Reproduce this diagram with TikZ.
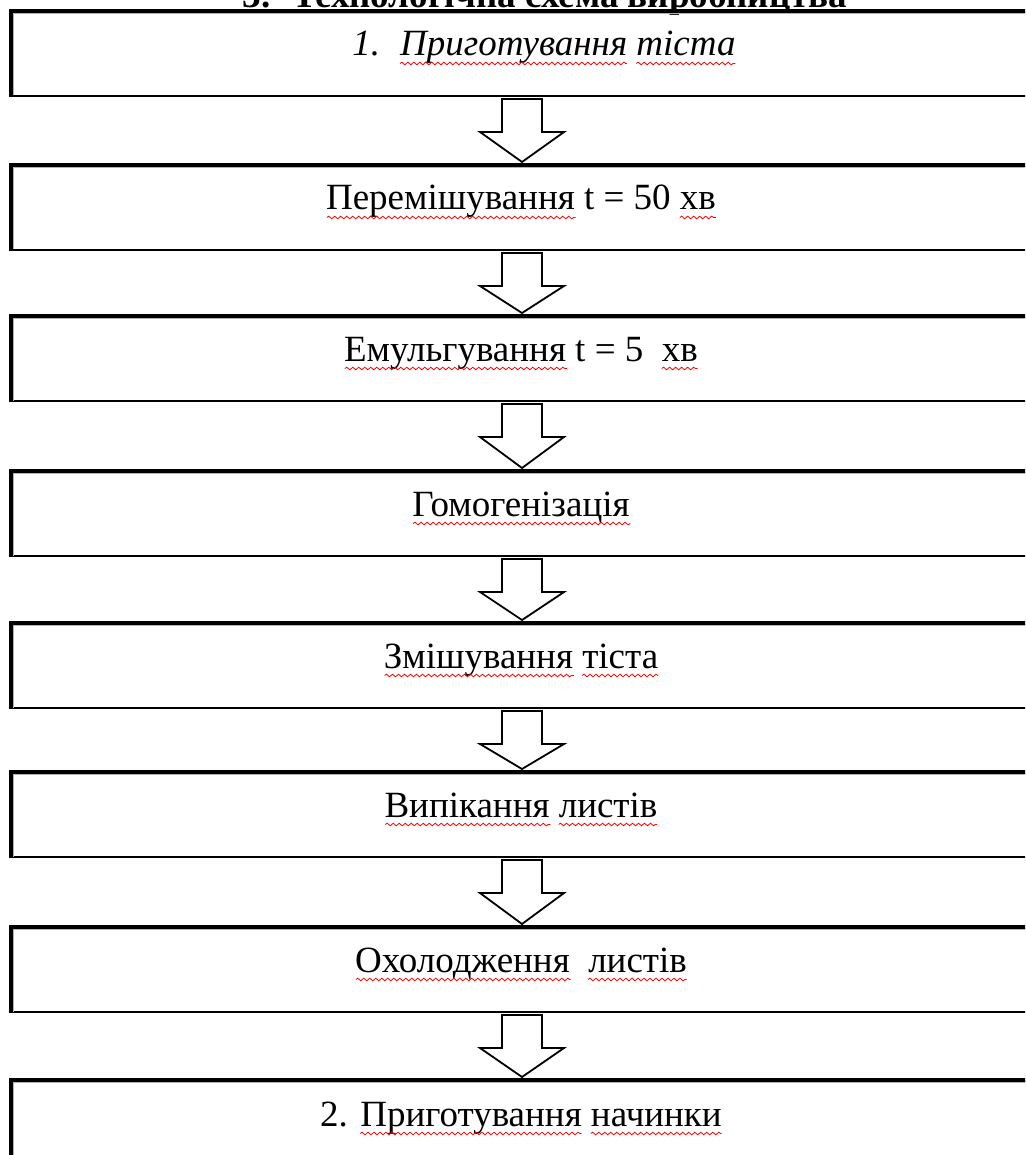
\documentclass[tikz,border=0pt]{standalone}
\usepackage{fontspec}
\setmainfont{Liberation Serif}
\usetikzlibrary{calc,decorations.pathmorphing}

\newcommand\boxfont{\fontsize{37}{44}\selectfont}
% red wavy underline under a word: mark name, text node, text before the word, the word
\newcommand\squig[4]{%
  \node[measure] (#1a) at (#2.base west) {\phantom{#3}};
  \node[measure] (#1b) at (#1a.base east) {\phantom{#4}};
  \draw[squiggle] ([yshift=-7.5pt]#1b.base west) -- ([yshift=-7.5pt]#1b.base east);}
% hollow block arrow between two stages
\newcommand\flowarrow[2]{%
  \draw[blockarrow] let \p1=(#1.south), \p2=(#2.north) in
    (\x1-20pt,\y1-2pt) -- (\x1-20pt,\y1-35pt) -- (\x1-42pt,\y1-35pt) --
    (\x1,\y2+3pt) -- (\x1+42pt,\y1-35pt) -- (\x1+20pt,\y1-35pt) --
    (\x1+20pt,\y1-2pt) -- cycle;}

\begin{document}
\begin{tikzpicture}[x=1pt,y=-1pt,
  stage/.style={rectangle, draw, line width=2pt, minimum width=1021pt,
    minimum height=84pt, inner sep=0pt, anchor=north west},
  stagetext/.style={anchor=base, inner sep=0pt, font=\boxfont},
  measure/.style={anchor=base west, inner sep=0pt, outer sep=0pt, font=\boxfont},
  titletext/.style={anchor=base, inner sep=0pt, font=\boxfont\bfseries},
  blockarrow/.style={draw, line width=1.8pt, fill=white, line join=miter},
  squiggle/.style={red, line width=0.8pt,
    decorate, decoration={snake, amplitude=1.3pt, segment length=6pt}},
  heavy/.style={line width=3.5pt},
  shade line/.style={gray!60, line width=1pt}]
\useasboundingbox (0,0) rectangle (1025,1155);
\clip (0,0) rectangle (1025,1155);

% heading, cut by the top edge
\node[titletext] (title) at (545,8) {3.~ Технологічна схема виробництва};

% stages
\node[stage] (b1) at (10.5,11) {};
\node[stage] (b2) at (10.5,165) {};
\node[stage] (b3) at (10.5,316) {};
\node[stage] (b4) at (10.5,471) {};
\node[stage] (b5) at (10.5,623) {};
\node[stage] (b6) at (10.5,772) {};
\node[stage] (b7) at (10.5,927) {};
\node[stage] (b8) at (10.5,1080) {};

% heavier top and left edges with a light inner line
\foreach \n in {b1,b2,b3,b4,b5,b6,b7,b8} {
  \draw[heavy] (\n.south west) -- (\n.north west) -- (\n.north east);
  \draw[shade line] ([xshift=2.5pt,yshift=1.5pt]\n.south west) --
    ([xshift=2.5pt,yshift=-2.5pt]\n.north west) -- ([yshift=-2.5pt]\n.north east);
}

% stage texts
\node[stagetext] (t1) at (544,56) {\itshape 1.\hspace{20pt}Приготування тіста};
\node[stagetext] (t2) at (521,210) {Перемішування t = 50 хв};
\node[stagetext] (t3) at (521,361) {Емульгування t = 5~ хв};
\node[stagetext] (t4) at (521,516) {Гомогенізація};
\node[stagetext] (t5) at (521,668) {Змішування тіста};
\node[stagetext] (t6) at (521,817) {Випікання листів};
\node[stagetext] (t7) at (521,972) {Охолодження~ листів};
\node[stagetext] (t8) at (521,1126) {2. Приготування начинки};

% spelling marks under the words
\squig{s1}{t1}{\itshape 1.\hspace{20pt}}{\itshape Приготування}
\squig{s2}{t1}{\itshape 1.\hspace{20pt}Приготування }{\itshape тіста}
\squig{s3}{t2}{}{Перемішування}
\squig{s4}{t2}{Перемішування t = 50 }{хв}
\squig{s5}{t3}{}{Емульгування}
\squig{s6}{t3}{Емульгування t = 5~ }{хв}
\squig{s7}{t4}{}{Гомогенізація}
\squig{s8}{t5}{}{Змішування}
\squig{s9}{t5}{Змішування }{тіста}
\squig{s10}{t6}{}{Випікання}
\squig{s11}{t6}{Випікання }{листів}
\squig{s12}{t7}{}{Охолодження}
\squig{s13}{t7}{Охолодження~ }{листів}
\squig{s14}{t8}{2. }{Приготування}
\squig{s15}{t8}{2. Приготування }{начинки}

% flow arrows
\flowarrow{b1}{b2}
\flowarrow{b2}{b3}
\flowarrow{b3}{b4}
\flowarrow{b4}{b5}
\flowarrow{b5}{b6}
\flowarrow{b6}{b7}
\flowarrow{b7}{b8}
\end{tikzpicture}
\end{document}
